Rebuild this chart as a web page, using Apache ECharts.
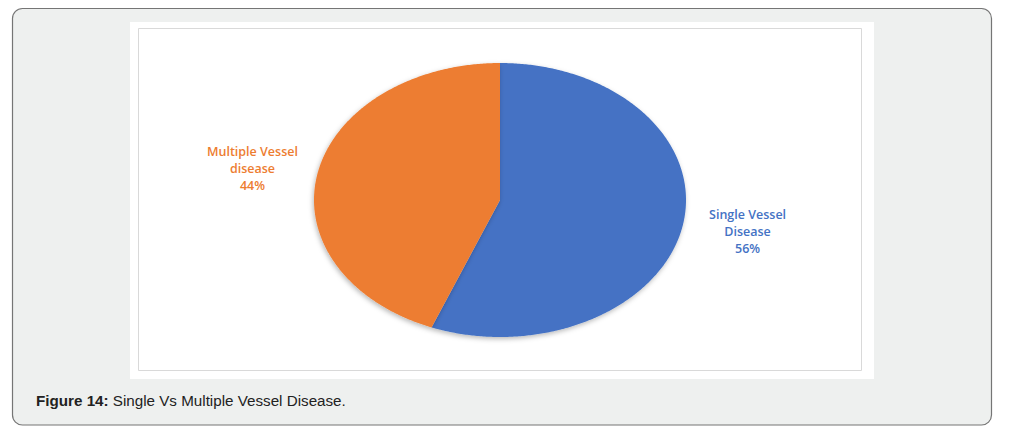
<!DOCTYPE html>
<html>
<head>
<meta charset="utf-8">
<script src="https://cdn.jsdelivr.net/npm/echarts@6/dist/echarts.min.js"></script>
<style>
  html, body { margin: 0; padding: 0; background: #ffffff; }
  #chart { width: 1012px; height: 430px; }
</style>
</head>
<body>
<div id="chart"></div>
<script>
// Share of patients by extent of coronary disease
const categories = ['Single Vessel Disease', 'Multiple Vessel disease'];
const labelLines = ['Single Vessel\nDisease', 'Multiple Vessel\ndisease'];
const shares = [56, 44];
const sliceColors = ['#4472C4', '#ED7D31'];
const caption = ['Figure 14:', ' Single Vs Multiple Vessel Disease.'];

const total = shares.reduce((a, b) => a + b, 0);
const starts = [];
let running = 0;
shares.forEach(v => { starts.push(running); running += v; });

// Each slice is a sector of the unit circle in data space; the grid's
// unequal x/y pixel extents turn it into the elliptical pie.
function renderSlice(params, api) {
  const i = params.dataIndex;
  const v = api.value(1);
  const a0 = starts[i] / total * 2 * Math.PI;
  const a1 = a0 + v / total * 2 * Math.PI;
  const steps = Math.max(16, Math.ceil((a1 - a0) / (Math.PI / 360)));
  const pts = [api.coord([0, 0])];
  for (let k = 0; k <= steps; k++) {
    const a = a0 + (a1 - a0) * k / steps;
    pts.push(api.coord([Math.sin(a), Math.cos(a)]));
  }
  const mid = (a0 + a1) / 2;
  const lp = api.coord([1.355 * Math.sin(mid), 1.24 * Math.cos(mid)]);
  return {
    type: 'group',
    children: [
      {
        type: 'polygon',
        shape: { points: pts },
        style: {
          fill: sliceColors[i],
          shadowBlur: 5,
          shadowOffsetX: -1,
          shadowOffsetY: 2,
          shadowColor: 'rgba(0,0,0,0.28)'
        }
      },
      {
        type: 'text',
        x: lp[0],
        y: lp[1],
        style: {
          text: labelLines[i] + '\n' + v + '%',
          fill: sliceColors[i],
          font: '600 12.5px "Open Sans", sans-serif',
          align: 'center',
          verticalAlign: 'middle',
          lineHeight: 17
        }
      }
    ]
  };
}

const chart = echarts.init(document.getElementById('chart'), null, { renderer: 'svg' });
chart.setOption({
  animation: false,
  backgroundColor: '#ffffff',
  graphic: [
    {
      type: 'rect', z: -10,
      shape: { x: 12.5, y: 8.5, width: 979, height: 416.5, r: 10 },
      style: { fill: '#eef0ef', stroke: '#757575', lineWidth: 1.2 }
    },
    {
      type: 'rect', z: -9,
      shape: { x: 130, y: 22, width: 744, height: 357 },
      style: { fill: '#ffffff' }
    },
    {
      type: 'rect', z: -8,
      shape: { x: 138.5, y: 28.5, width: 723, height: 342 },
      style: { fill: 'none', stroke: '#d9d9d9', lineWidth: 1 }
    },
    {
      type: 'text', z: -7,
      x: 36, y: 400,
      style: {
        text: '{b|' + caption[0] + '}' + caption[1],
        fill: '#222222',
        font: '15.2px "Liberation Sans", Arial, sans-serif',
        verticalAlign: 'middle',
        rich: {
          b: { fontWeight: 'bold', fontSize: 15.2, fontFamily: '"Liberation Sans", Arial, sans-serif', fill: '#222222' }
        }
      }
    }
  ],
  grid: { left: 314, top: 63, width: 372, height: 274 },
  xAxis: { type: 'value', min: -1, max: 1, show: false },
  yAxis: { type: 'value', min: -1, max: 1, show: false },
  series: [{
    type: 'custom',
    name: 'Vessel disease',
    clip: false,
    renderItem: renderSlice,
    encode: { x: -1, y: -1 },
    data: categories.map((c, i) => ({ name: c, value: [i, shares[i]] }))
  }]
});
</script>
</body>
</html>
